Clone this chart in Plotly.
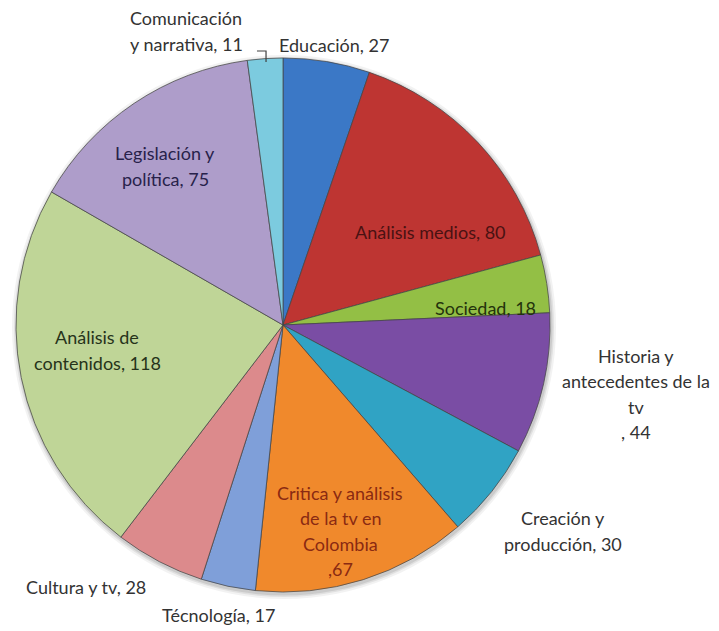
import plotly.graph_objects as go

# ---- data ----
categories = [
    "Educación", "Análisis medios", "Sociedad",
    "Historia y antecedentes de la tv", "Creación y producción",
    "Critica y análisis de la tv en Colombia", "Técnología", "Cultura y tv",
    "Análisis de contenidos", "Legislación y política", "Comunicación y narrativa",
]
values = [27, 80, 18, 44, 30, 67, 17, 28, 118, 75, 11]
# label lines as shown on the chart ({v} = value)
label_lines = [
    ["Educación, {v}"],
    ["Análisis medios, {v}"],
    ["Sociedad, {v}"],
    ["Historia y", "antecedentes de la", "tv", ", {v}"],
    ["Creación y", "producción, {v}"],
    ["Critica y análisis", "de la tv en", "Colombia", ",{v}"],
    ["Técnología, {v}"],
    ["Cultura y tv, {v}"],
    ["Análisis de", "contenidos, {v}"],
    ["Legislación y", "política, {v}"],
    ["Comunicación", "y narrativa, {v}"],
]

# ---- styles ----
colors = ["#3B78C6", "#BE3532", "#93BF45", "#7A4DA4", "#30A3C4", "#F0892C",
          "#7F9FD9", "#DC8A8C", "#BFD597", "#AE9DCA", "#7CCBDF"]
text_colors = ["#333333", "#4A1212", "#24330C", "#333333", "#333333", "#8A2A12",
               "#333333", "#333333", "#26331A", "#28224A", "#333333"]
# label block centres (px from top-left of 719x631 canvas)
label_pos = [(334, 45), (430, 232), (485, 308), (636, 394), (563, 531),
             (340, 531), (218, 615), (86, 587), (97, 350), (165, 166), (186, 31)]
LINE_H = 25.5
W, H = 719, 631
CX, CY, R = 283, 325, 267
FONT = "Lato"

fig = go.Figure(go.Pie(
    labels=categories,
    values=values,
    sort=False,
    direction="clockwise",
    rotation=0,
    textinfo="none",
    hoverinfo="label+value",
    marker=dict(colors=colors, line=dict(color="rgba(70,70,70,0.75)", width=1)),
    domain=dict(x=[(CX - R) / W, (CX + R) / W],
                y=[(H - CY - R) / H, (H - CY + R) / H]),
    showlegend=False,
))

annotations = []
for lines, v, (px, py), tc in zip(label_lines, values, label_pos, text_colors):
    n = len(lines)
    for i, ln in enumerate(lines):
        y = py + (i - (n - 1) / 2) * LINE_H
        annotations.append(dict(
            x=px / W, y=1 - y / H, xref="paper", yref="paper",
            text=ln.format(v=v), showarrow=False,
            xanchor="center", yanchor="middle",
            font=dict(family=FONT, size=18, color=tc),
        ))

# soft shadow rings behind the pie
shadow = []
for k, a in ((5, 0.05), (3, 0.07), (1.5, 0.09)):
    shadow.append(dict(type="circle", xref="paper", yref="paper", layer="below",
                       x0=(CX - R - k + 1) / W, x1=(CX + R + k + 1) / W,
                       y0=1 - (CY + R + k + 2) / H, y1=1 - (CY - R - k + 2) / H,
                       fillcolor=f"rgba(0,0,0,{a})", line=dict(width=0)))

fig.update_layout(
    width=W, height=H,
    margin=dict(l=0, r=0, t=0, b=0),
    paper_bgcolor="white", plot_bgcolor="white",
    annotations=annotations,
    shapes=shadow + [dict(type="path", xref="paper", yref="paper",
                 path="M {:.4f},{:.4f} L {:.4f},{:.4f} L {:.4f},{:.4f}".format(
                     257 / W, 1 - 51 / H, 266 / W, 1 - 51 / H, 266 / W, 1 - 62 / H),
                 line=dict(color="#404040", width=1.2))],
)

fig.write_html("out.html", config={"displayModeBar": False},
               post_script="document.body.style.margin='0';")
